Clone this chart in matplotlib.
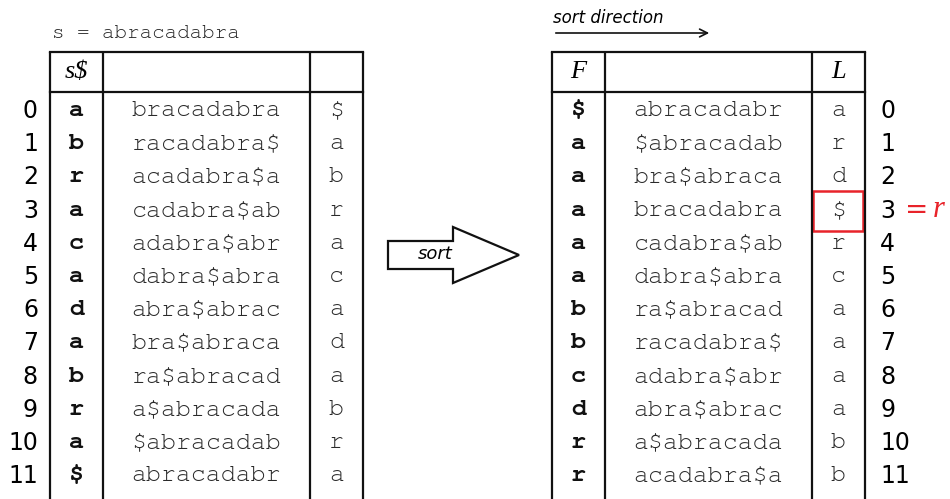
import matplotlib
matplotlib.use("Agg")
import matplotlib.pyplot as plt
from matplotlib.patches import Polygon, Rectangle

# data
s = "abracadabra"
left_first = ["a", "b", "r", "a", "c", "a", "d", "a", "b", "r", "a", "$"]
left_mid = ["bracadabra", "racadabra$", "acadabra$a", "cadabra$ab", "adabra$abr",
            "dabra$abra", "abra$abrac", "bra$abraca", "ra$abracad", "a$abracada",
            "$abracadab", "abracadabr"]
left_last = ["$", "a", "b", "r", "a", "c", "a", "d", "a", "b", "r", "a"]

right_first = ["$", "a", "a", "a", "a", "a", "b", "b", "c", "d", "r", "r"]
right_mid = ["abracadabr", "$abracadab", "bra$abraca", "bracadabra", "cadabra$ab",
             "dabra$abra", "ra$abracad", "racadabra$", "adabra$abr", "abra$abrac",
             "a$abracada", "acadabra$a"]
right_last = ["a", "r", "d", "$", "r", "c", "a", "a", "a", "a", "b", "b"]
highlight_row = 3

mono = ["Courier New", "Nimbus Mono PS", "FreeMono", "Liberation Mono", "DejaVu Sans Mono"]
serif = ["Liberation Serif", "DejaVu Serif"]
sans = ["DejaVu Sans"]

fig = plt.figure(figsize=(9.5, 4.99), dpi=100)
ax = fig.add_axes([0, 0, 1, 1])
ax.set_xlim(0, 950)
ax.set_ylim(499, 0)
ax.axis("off")

row0, dy = 111, 33.2
top, head_bot, bot = 52, 92, 499


def table(cols, firsts, mids, lasts, h1, h2):
    x0, x1, x2, x3 = cols
    for x in cols:
        ax.plot([x, x], [top, bot], color="#111", lw=1.6, solid_capstyle="butt")
    for y in (top, head_bot):
        ax.plot([x0, x3], [y, y], color="#111", lw=1.6)
    ax.text((x0 + x1) / 2, (top + head_bot) / 2, h1, ha="center", va="center",
            family=serif, style="italic", fontsize=19, parse_math=False)
    ax.text((x2 + x3) / 2, (top + head_bot) / 2, h2, ha="center", va="center",
            family=serif, style="italic", fontsize=19, parse_math=False)
    for i in range(len(mids)):
        y = row0 + i * dy
        ax.text((x0 + x1) / 2, y, firsts[i], ha="center", va="center", family=mono,
                weight="bold", fontsize=18, color="#111", parse_math=False)
        ax.text((x1 + x2) / 2, y, mids[i], ha="center", va="center", family=mono,
                fontsize=18, color="#2a2a2a", parse_math=False)
        ax.text((x2 + x3) / 2, y, lasts[i], ha="center", va="center", family=mono,
                fontsize=18, color="#2a2a2a", parse_math=False)


table((50, 103, 310, 363), left_first, left_mid, left_last, "s$", "")
table((552, 605, 812, 865), right_first, right_mid, right_last, "F", "L")

for i in range(len(left_mid)):
    y = row0 + i * dy
    ax.text(38, y, str(i), ha="right", va="center", family=sans, fontsize=17)
    ax.text(880, y, str(i), ha="left", va="center", family=sans, fontsize=17)

ax.text(52, 33, "s = " + s, ha="left", va="center", family=mono, fontsize=15, color="#222")

# highlight
hy = row0 + highlight_row * dy
ax.add_patch(Rectangle((813, hy - 20), 50, 40, fill=False, ec="#e8232a", lw=1.8))
ax.text(905, hy - 1, "=", ha="left", va="center", color="#e8232a", fontsize=20, family=sans)
ax.text(933, hy - 1, "r", ha="left", va="center", color="#e8232a", fontsize=22,
        family=serif, style="italic")

# sort direction arrow
ax.text(553, 18, "sort direction", ha="left", va="center", family=sans, style="italic",
        fontsize=12)
ax.annotate("", xy=(712, 33), xytext=(553, 33),
            arrowprops=dict(arrowstyle="->", lw=1.2, color="#111", mutation_scale=14))

# big "sort" arrow
ax.add_patch(Polygon([(388, 241), (453, 241), (453, 227), (519, 255), (453, 283),
                      (453, 269), (388, 269)], closed=True, fc="white", ec="#111", lw=1.6))
ax.text(435, 254, "sort", ha="center", va="center", family=sans, style="italic", fontsize=13)

fig.savefig("out.png", dpi=100)
